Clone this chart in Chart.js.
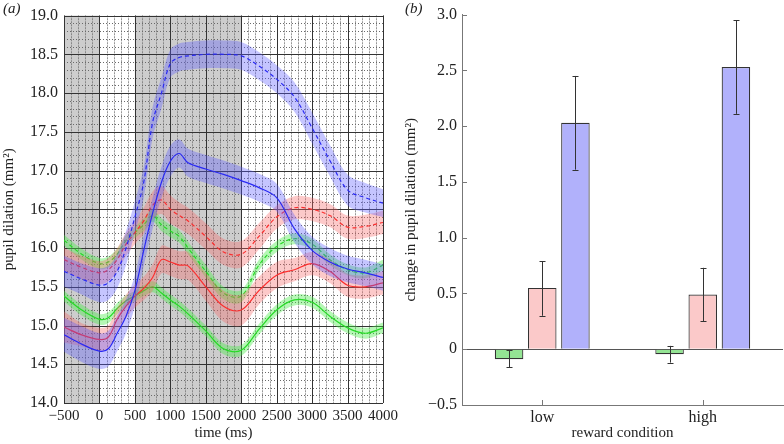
<!DOCTYPE html>
<html>
<head>
<meta charset="utf-8">
<script src="https://cdn.jsdelivr.net/npm/chart.js@4.4.0/dist/chart.umd.min.js"></script>
<style>
  html, body { margin: 0; padding: 0; background: #fff; }
  #wrap { position: relative; width: 784px; height: 444px; overflow: hidden; }
  canvas { position: absolute; top: 0; }
  #pupilChart { left: 0; }
  #changeChart { left: 402px; }
  .panel { position: absolute; top: 0; font: italic 15px 'Liberation Serif', serif; color: #222; }
</style>
</head>
<body>
<div id="wrap">
  <canvas id="pupilChart" width="402" height="444"></canvas>
  <canvas id="changeChart" width="382" height="444"></canvas>
  <div class="panel" style="left:3px;">(a)</div>
  <div class="panel" style="left:405px;">(b)</div>
</div>
<script>
// ---- panel (a): pupil dilation over time ----
const times = [-500, -250, 0, 125, 250, 375, 500, 625, 750, 875, 1000, 1125, 1250, 1500, 1750, 2000, 2250, 2500, 2750, 3000, 3250, 3500, 3750, 4000];

const blueDashed    = [15.7, 15.6, 15.52, 15.55, 15.7, 16.0, 16.4, 16.85, 17.62, 18.0, 18.38, 18.46, 18.48, 18.5, 18.5, 18.48, 18.35, 18.18, 17.95, 17.55, 17.13, 16.75, 16.65, 16.58];
const blueDashedErr = [0.2, 0.2, 0.22, 0.22, 0.22, 0.22, 0.2, 0.2, 0.2, 0.2, 0.18, 0.18, 0.18, 0.18, 0.18, 0.18, 0.18, 0.18, 0.19, 0.2, 0.2, 0.2, 0.19, 0.18];
const blueSolid     = [14.88, 14.76, 14.67, 14.7, 14.9, 15.12, 15.45, 15.97, 16.45, 16.85, 17.12, 17.22, 17.1, 17.02, 16.95, 16.87, 16.78, 16.65, 16.25, 15.97, 15.82, 15.73, 15.68, 15.62];
const blueSolidErr  = [0.22, 0.23, 0.23, 0.23, 0.23, 0.22, 0.2, 0.2, 0.2, 0.2, 0.2, 0.18, 0.18, 0.18, 0.18, 0.18, 0.18, 0.18, 0.18, 0.18, 0.18, 0.17, 0.17, 0.17];
const redDashed     = [15.85, 15.75, 15.68, 15.72, 15.85, 16.05, 16.2, 16.35, 16.55, 16.62, 16.5, 16.42, 16.35, 16.15, 15.95, 15.92, 16.15, 16.4, 16.52, 16.5, 16.42, 16.27, 16.28, 16.33];
const redDashedErr  = [0.15, 0.15, 0.15, 0.15, 0.15, 0.15, 0.15, 0.17, 0.18, 0.18, 0.18, 0.17, 0.17, 0.17, 0.17, 0.17, 0.17, 0.15, 0.15, 0.15, 0.15, 0.15, 0.15, 0.15];
const redSolid      = [14.98, 14.88, 14.82, 14.85, 15.08, 15.25, 15.38, 15.48, 15.62, 15.85, 15.82, 15.78, 15.77, 15.5, 15.25, 15.2, 15.45, 15.65, 15.72, 15.8, 15.7, 15.52, 15.5, 15.55];
const redSolidErr   = [0.2, 0.15, 0.15, 0.15, 0.15, 0.15, 0.15, 0.15, 0.17, 0.18, 0.18, 0.18, 0.18, 0.18, 0.2, 0.2, 0.18, 0.17, 0.15, 0.15, 0.15, 0.15, 0.15, 0.15];
const greenDashed   = [16.1, 15.92, 15.8, 15.82, 15.92, 16.1, 16.2, 16.3, 16.42, 16.3, 16.22, 16.15, 16.0, 15.7, 15.42, 15.38, 15.78, 16.02, 16.12, 16.05, 15.85, 15.72, 15.68, 15.78];
const greenDashedErr = [0.07, 0.07, 0.07, 0.07, 0.07, 0.07, 0.07, 0.08, 0.08, 0.08, 0.08, 0.08, 0.08, 0.08, 0.08, 0.08, 0.07, 0.07, 0.07, 0.07, 0.07, 0.07, 0.07, 0.07];
const greenSolid    = [15.38, 15.2, 15.08, 15.1, 15.22, 15.32, 15.38, 15.45, 15.5, 15.42, 15.33, 15.25, 15.15, 14.93, 14.7, 14.68, 14.95, 15.2, 15.33, 15.3, 15.12, 14.97, 14.9, 14.97];
const greenSolidErr = [0.07, 0.07, 0.07, 0.07, 0.07, 0.07, 0.07, 0.07, 0.07, 0.07, 0.07, 0.07, 0.07, 0.07, 0.07, 0.07, 0.07, 0.07, 0.07, 0.07, 0.07, 0.07, 0.07, 0.07];

const shadedSpans = [[-500, 0], [500, 2000]];

// ---- panel (b): change in pupil dilation ----
const categories = ['low', 'high'];
const greenBar = [-0.09, -0.045];
const greenLo  = [-0.16, -0.12];
const greenHi  = [-0.01, 0.03];
const pinkBar  = [0.55, 0.49];
const pinkLo   = [0.30, 0.25];
const pinkHi   = [0.79, 0.73];
const blueBar  = [2.03, 2.53];
const blueLo   = [1.61, 2.11];
const blueHi   = [2.45, 2.95];

const serif = "'Liberation Serif', 'Times New Roman', serif";
const minus = v => (v < 0 ? '\u2212' + Math.abs(v) : String(v));

function bandSets(mean, half, line, fill, dash) {
    return [
        {
            data: mean.map((v, i) => ({ x: times[i], y: v + half[i] })),
            borderWidth: 0, pointRadius: 0, fill: '+1', backgroundColor: fill, tension: 0.35
        },
        {
            data: mean.map((v, i) => ({ x: times[i], y: v - half[i] })),
            borderWidth: 0, pointRadius: 0, fill: false, tension: 0.35
        },
        {
            data: mean.map((v, i) => ({ x: times[i], y: v })),
            borderColor: line, borderWidth: 1.2, borderDash: dash, pointRadius: 0, fill: false, tension: 0.35
        }
    ];
}

const px = v => Math.round(v) + 0.5;

const pupilGrid = {
    id: 'pupilGrid',
    beforeDatasetsDraw(chart) {
        const { ctx, chartArea: a, scales: { x, y } } = chart;
        ctx.save();
        ctx.fillStyle = '#cdcdcd';
        shadedSpans.forEach(([s, e]) => {
            const x0 = x.getPixelForValue(s), x1 = x.getPixelForValue(e);
            ctx.fillRect(x0, a.top, x1 - x0, a.bottom - a.top);
        });
        ctx.lineWidth = 1;
        // minor grid
        ctx.strokeStyle = 'rgba(120,120,120,0.25)';
        for (let k = 0; k <= 45; k++) {
            const xx = px(x.getPixelForValue(-500 + k * 100));
            ctx.beginPath(); ctx.moveTo(xx, a.top); ctx.lineTo(xx, a.bottom); ctx.stroke();
        }
        ctx.strokeStyle = '#6a6a6a';
        ctx.setLineDash([1, 2]);
        for (let k = 0; k <= 45; k++) {
            const xx = px(x.getPixelForValue(-500 + k * 100));
            ctx.beginPath(); ctx.moveTo(xx, a.top); ctx.lineTo(xx, a.bottom); ctx.stroke();
        }
        for (let k = 0; k <= 50; k++) {
            const yy = px(y.getPixelForValue(14 + k * 0.1));
            ctx.beginPath(); ctx.moveTo(a.left, yy); ctx.lineTo(a.right, yy); ctx.stroke();
        }
        // major grid
        ctx.setLineDash([]);
        ctx.strokeStyle = '#333';
        for (let k = 0; k <= 9; k++) {
            const xx = px(x.getPixelForValue(-500 + k * 500));
            ctx.beginPath(); ctx.moveTo(xx, a.top); ctx.lineTo(xx, a.bottom); ctx.stroke();
        }
        for (let k = 0; k <= 10; k++) {
            const yy = px(y.getPixelForValue(14 + k * 0.5));
            ctx.beginPath(); ctx.moveTo(a.left, yy); ctx.lineTo(a.right, yy); ctx.stroke();
        }
        ctx.restore();
    }
};

new Chart(document.getElementById('pupilChart'), {
    type: 'line',
    data: {
        datasets: [
            ...bandSets(blueDashed, blueDashedErr, '#1010ee', 'rgba(90,90,255,0.35)', [4, 3]),
            ...bandSets(blueSolid, blueSolidErr, '#1010ee', 'rgba(90,90,255,0.35)', []),
            ...bandSets(redDashed, redDashedErr, '#ff1010', 'rgba(245,100,100,0.35)', [4, 3]),
            ...bandSets(redSolid, redSolidErr, '#ff1010', 'rgba(245,100,100,0.35)', []),
            ...bandSets(greenDashed, greenDashedErr, '#10d010', 'rgba(70,235,70,0.4)', [4, 3]),
            ...bandSets(greenSolid, greenSolidErr, '#10d010', 'rgba(70,235,70,0.4)', [])
        ]
    },
    options: {
        responsive: false,
        animation: false,
        layout: { padding: { top: 13, right: 16, left: 0, bottom: 0 } },
        plugins: { legend: { display: false }, tooltip: { enabled: false } },
        scales: {
            x: {
                type: 'linear', min: -500, max: 4000,
                afterFit: s => { s.height = 41; },
                ticks: { stepSize: 500, autoSkip: false, color: '#222', font: { family: serif, size: 15 }, padding: 4, maxRotation: 0, callback: minus },
                grid: { display: false, drawTicks: false },
                border: { display: false },
                title: { display: true, text: 'time (ms)', color: '#222', font: { family: serif, size: 15 }, padding: { top: 0, bottom: 2 } }
            },
            y: {
                min: 14, max: 19,
                afterFit: s => { s.width = 64; },
                ticks: { stepSize: 0.5, color: '#222', font: { family: serif, size: 16 }, padding: 6, callback: v => v.toFixed(1) },
                grid: { display: false, drawTicks: false },
                border: { display: false },
                title: { display: true, text: 'pupil dilation (mm\u00b2)', color: '#222', font: { family: serif, size: 15 }, padding: { top: 0, bottom: 4 } }
            }
        }
    },
    plugins: [pupilGrid]
});

// error bars and inward ticks for panel (b)
const errorBars = {
    id: 'errorBars',
    afterDatasetsDraw(chart) {
        const { ctx, scales: { y } } = chart;
        const ranges = [[greenLo, greenHi], [pinkLo, pinkHi], [blueLo, blueHi]];
        ctx.save();
        ctx.strokeStyle = '#333';
        ctx.lineWidth = 1;
        ranges.forEach(([lo, hi], d) => {
            chart.getDatasetMeta(d).data.forEach((bar, i) => {
                const xx = px(bar.x);
                const y0 = y.getPixelForValue(lo[i]), y1 = y.getPixelForValue(hi[i]);
                ctx.beginPath();
                ctx.moveTo(xx, y0); ctx.lineTo(xx, y1);
                ctx.moveTo(xx - 3, px(y0)); ctx.lineTo(xx + 3, px(y0));
                ctx.moveTo(xx - 3, px(y1)); ctx.lineTo(xx + 3, px(y1));
                ctx.stroke();
            });
        });
        ctx.restore();
    },
    afterDraw(chart) {
        const { ctx, chartArea: a, scales: { x, y } } = chart;
        ctx.save();
        ctx.strokeStyle = '#777';
        ctx.lineWidth = 1;
        y.ticks.forEach(t => {
            const yy = px(y.getPixelForValue(t.value));
            ctx.beginPath(); ctx.moveTo(a.left, yy); ctx.lineTo(a.left + 5, yy); ctx.stroke();
        });
        categories.forEach((c, i) => {
            const xx = px(x.getPixelForValue(i));
            ctx.beginPath(); ctx.moveTo(xx, a.bottom); ctx.lineTo(xx, a.bottom - 5); ctx.stroke();
        });
        ctx.restore();
    }
};

new Chart(document.getElementById('changeChart'), {
    type: 'bar',
    data: {
        labels: categories,
        datasets: [
            { data: greenBar, backgroundColor: '#94e494', borderColor: '#333', borderWidth: 1.2 },
            { data: pinkBar, backgroundColor: '#fbc9c9', borderColor: '#333', borderWidth: 1.2 },
            { data: blueBar, backgroundColor: '#b1b1fb', borderColor: '#333', borderWidth: 1.2 }
        ]
    },
    options: {
        responsive: false,
        animation: false,
        categoryPercentage: 0.62,
        barPercentage: 0.86,
        layout: { padding: { top: 13, right: 1, left: 0, bottom: 0 } },
        plugins: { legend: { display: false }, tooltip: { enabled: false } },
        scales: {
            x: {
                afterFit: s => { s.height = 39; },
                ticks: { color: '#222', font: { family: serif, size: 16 }, padding: 3 },
                grid: { display: false, drawTicks: false },
                border: { color: '#777' },
                title: { display: true, text: 'reward condition', color: '#222', font: { family: serif, size: 15 }, padding: { top: 0, bottom: 2 } }
            },
            y: {
                min: -0.5, max: 3.0,
                afterFit: s => { s.width = 60; },
                ticks: {
                    stepSize: 0.5, color: '#222', font: { family: serif, size: 16 }, padding: 5,
                    callback: v => (v === 0 ? '0' : (v < 0 ? '\u2212' + Math.abs(v).toFixed(1) : v.toFixed(1)))
                },
                grid: { drawTicks: false, color: c => (c.tick && c.tick.value === 0 ? '#555' : 'rgba(0,0,0,0)') },
                border: { color: '#777' },
                title: { display: true, text: 'change in pupil dilation (mm\u00b2)', color: '#222', font: { family: serif, size: 15 }, padding: { top: 0, bottom: 4 } }
            }
        }
    },
    plugins: [errorBars]
});
</script>
</body>
</html>
